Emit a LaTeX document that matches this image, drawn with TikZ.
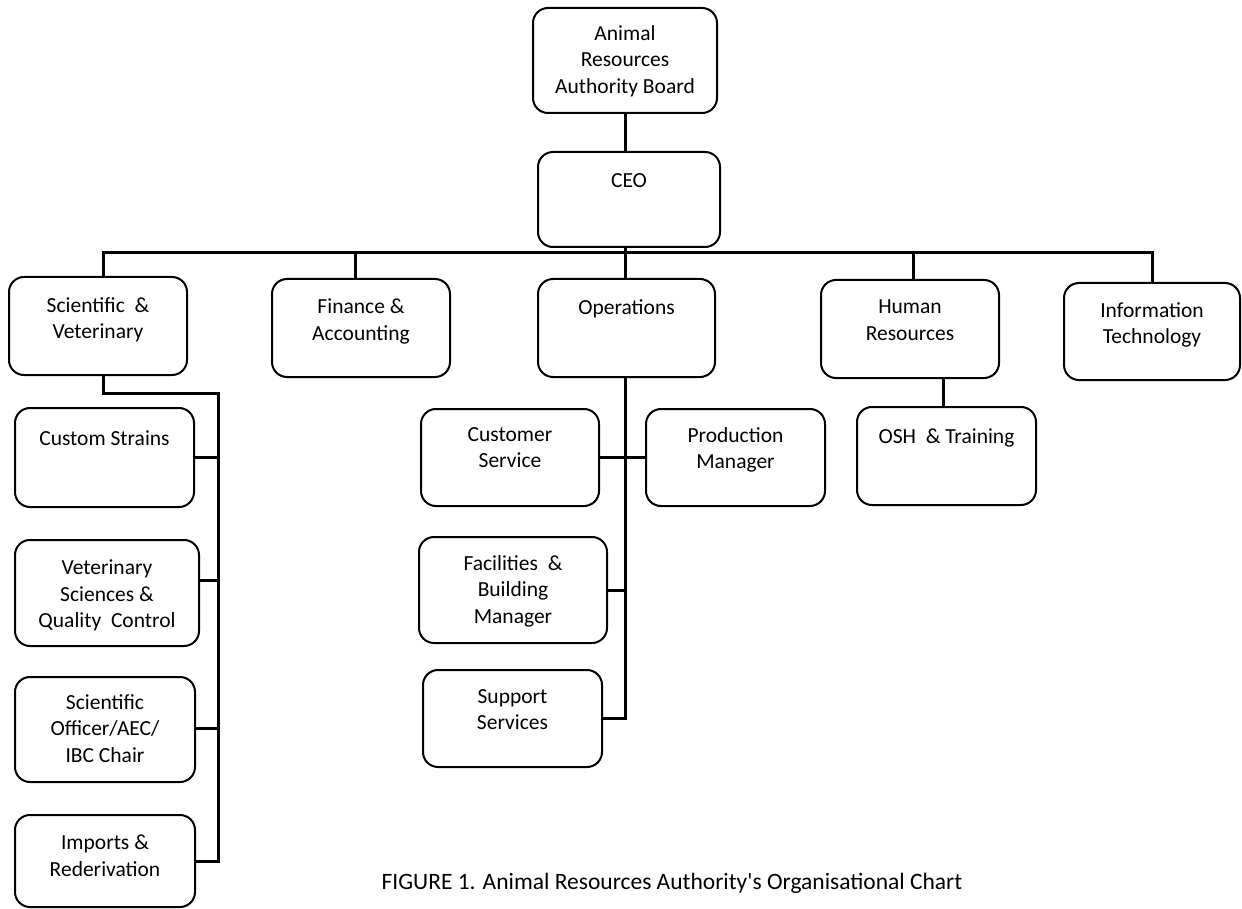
\documentclass[tikz,border=0pt]{standalone}
\usepackage{fontspec}
\setmainfont{Carlito}[Ligatures=TeXOff]
\begin{document}
\begin{tikzpicture}[x=1pt,y=-1pt,
  box/.style={draw, line width=2pt, rounded corners=15pt, inner sep=0pt},
  txt/.style={font=\fontsize{21.5}{26.5}\selectfont, align=center, anchor=north, inner sep=0pt,
    execute at begin node={\rule{0pt}{16pt}}},
  conn/.style={line width=3pt, line cap=rect}]
\useasboundingbox (0,0) rectangle (1242,909);
% boxes
\node[box, minimum width=184pt, minimum height=105pt] (board) at (625,60.5) {};
\node[box, minimum width=182pt, minimum height=95pt] (ceo) at (629,199.5) {};
\node[box, minimum width=178pt, minimum height=98pt] (sv) at (98,326) {};
\node[box, minimum width=178pt, minimum height=98pt] (fin) at (361,328) {};
\node[box, minimum width=177pt, minimum height=98pt] (ops) at (626.5,328) {};
\node[box, minimum width=178pt, minimum height=98pt] (hr) at (910,329) {};
\node[box, minimum width=176pt, minimum height=97pt] (it) at (1152,331.5) {};
\node[box, minimum width=179pt, minimum height=99pt] (cs) at (104.5,457.5) {};
\node[box, minimum width=184pt, minimum height=106pt] (vs) at (107,593) {};
\node[box, minimum width=180pt, minimum height=105pt] (so) at (105,729.5) {};
\node[box, minimum width=180pt, minimum height=92pt] (imp) at (105,861) {};
\node[box, minimum width=178pt, minimum height=97pt] (csv) at (510,457.5) {};
\node[box, minimum width=179pt, minimum height=97pt] (pm) at (735.5,457.5) {};
\node[box, minimum width=188pt, minimum height=106pt] (fac) at (513,590) {};
\node[box, minimum width=179pt, minimum height=97pt] (sup) at (512.5,718.5) {};
\node[box, minimum width=179pt, minimum height=98pt] (osh) at (946.5,456) {};
% texts
\node[txt] (boardT) at ([yshift=-18pt]board.north) {Animal\\Resources\\Authority Board};
\node[txt] (ceoT) at ([yshift=-20pt]ceo.north) {CEO};
\node[txt] (svT) at ([yshift=-21pt]sv.north) {Scientific\ \ \&\\Veterinary};
\node[txt] (finT) at ([yshift=-21pt]fin.north) {Finance \&\\Accounting};
\node[txt] (opsT) at ([yshift=-20pt]ops.north) {Operations};
\node[txt] (hrT) at ([yshift=-21pt]hr.north) {Human\\Resources};
\node[txt] (itT) at ([yshift=-20pt]it.north) {Information\\Technology};
\node[txt] (csT) at ([yshift=-22pt]cs.north) {Custom Strains};
\node[txt] (vsT) at ([yshift=-21pt]vs.north) {Veterinary\\Sciences \&\\Quality\ \ Control};
\node[txt] (soT) at ([yshift=-18pt]so.north) {Scientific\\Officer/AEC/\\IBC Chair};
\node[txt] (impT) at ([yshift=-21pt]imp.north) {Imports \&\\Rederivation};
\node[txt] (csvT) at ([yshift=-19pt]csv.north) {Customer\\Service};
\node[txt] (pmT) at ([yshift=-19pt]pm.north) {Production\\Manager};
\node[txt] (facT) at ([yshift=-19pt]fac.north) {Facilities\ \ \&\\Building\\Manager};
\node[txt] (supT) at ([yshift=-20pt]sup.north) {Support\\Services};
\node[txt] (oshT) at ([yshift=-21pt]osh.north) {OSH\ \ \& Training};
% connectors
\coordinate (bus) at (625,253);
\coordinate (svj) at (218,393);
\coordinate (hrx) at (943,0);
\draw[conn] (bus |- board.south) -- (bus |- ceo.north);
\draw[conn] (bus |- ceo.south) -- (bus);
\draw[conn] ([xshift=5pt]sv.north) |- (bus) -| (it.north);
\draw[conn] (bus) -- (bus |- ops.north);
\draw[conn] ([xshift=-6pt]fin.north) -- ([xshift=-6pt]fin.north |- bus);
\draw[conn] ([xshift=3pt]hr.north) -- ([xshift=3pt]hr.north |- bus);
\draw[conn] ([xshift=5pt]sv.south) |- (svj) |- (imp.east);
\draw[conn] (cs.east) -- (cs.east -| svj);
\draw[conn] ([yshift=13pt]vs.east) -- ([yshift=13pt]vs.east -| svj);
\draw[conn] ([yshift=1.5pt]so.east) -- ([yshift=1.5pt]so.east -| svj);
\draw[conn] (bus |- ops.south) |- (sup.east);
\draw[conn] (csv.east) -- (pm.west);
\draw[conn] (fac.east) -- (fac.east -| bus);
\draw[conn] (hrx |- hr.south) -- (hrx |- osh.north);
% caption
\node[font=\fontsize{23.5}{28}\selectfont, inner sep=0pt, anchor=base] (cap) at (672,889) {FIGURE 1. Animal Resources Authority's Organisational Chart};
\end{tikzpicture}
\end{document}
